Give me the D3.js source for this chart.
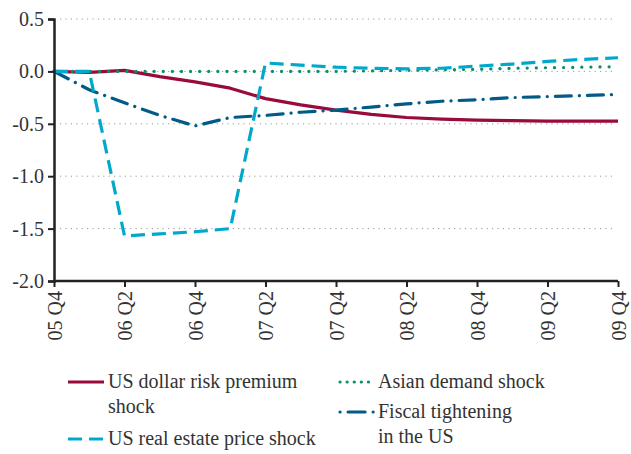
<!DOCTYPE html>
<html lang="en">
<head>
    <meta charset="UTF-8">
    <title>Shock scenarios</title>
    <script src="https://d3js.org/d3.v7.min.js"></script>
    <style>
        body {
            margin: 0;
            padding: 0;
            background: #fff;
        }
        .grid line {
            stroke: #999;
            stroke-width: 1;
            stroke-dasharray: 1.2 4.2;
        }
    </style>
</head>
<body>
    <svg width="631" height="454"></svg>
    <script>
        const serif = "'Liberation Serif', 'DejaVu Serif', 'Times New Roman', serif";

        // quarters 05 Q4 .. 09 Q4
        const quarters = ["05 Q4", "06 Q1", "06 Q2", "06 Q3", "06 Q4", "07 Q1", "07 Q2", "07 Q3", "07 Q4",
            "08 Q1", "08 Q2", "08 Q3", "08 Q4", "09 Q1", "09 Q2", "09 Q3", "09 Q4"];
        const tickLabels = ["05 Q4", "06 Q2", "06 Q4", "07 Q2", "07 Q4", "08 Q2", "08 Q4", "09 Q2", "09 Q4"];
        const yTicks = [0.5, 0.0, -0.5, -1.0, -1.5, -2.0];

        const dollarRisk = [0, -0.01, 0.01, -0.05, -0.10, -0.16, -0.26, -0.32, -0.37,
            -0.41, -0.44, -0.455, -0.465, -0.47, -0.475, -0.475, -0.475];
        const realEstate = [0, 0, -1.57, -1.55, -1.53, -1.5, 0.08, 0.06, 0.04,
            0.03, 0.025, 0.03, 0.05, 0.07, 0.095, 0.115, 0.13];
        const asianDemand = [0, 0, 0, 0, 0, 0, 0, 0, 0,
            0.005, 0.01, 0.015, 0.02, 0.03, 0.035, 0.04, 0.045];
        const fiscal = [0, -0.175, -0.3, -0.42, -0.52, -0.44, -0.42, -0.39, -0.37,
            -0.34, -0.31, -0.285, -0.27, -0.25, -0.24, -0.23, -0.22];

        const series = [
            { name: "dollar", values: dollarRisk, color: "#990b3b", dash: null },
            { name: "asian", values: asianDemand, color: "#0a8f6c", dash: "0.1 9", cap: "round" },
            { name: "fiscal", values: fiscal, color: "#005b88", dash: "16 8 0.1 8", cap: "round" },
            { name: "realestate", values: realEstate, color: "#00a9cc", dash: "14 7" }
        ];

        const svg = d3.select("svg");
        const x = d3.scalePoint().domain(quarters).range([54, 618]);
        const y = d3.scaleLinear().domain([-2.0, 0.5]).range([281, 19]);

        // gridlines
        svg.append("g")
            .attr("class", "grid")
            .selectAll("line")
            .data(yTicks.filter(d => d > -2))
            .join("line")
            .attr("x1", 60)
            .attr("x2", 614)
            .attr("y1", d => y(d))
            .attr("y2", d => y(d));

        // lines
        const line = d3.line()
            .x((d, i) => x(quarters[i]))
            .y(d => y(d));

        svg.append("g")
            .selectAll("path")
            .data(series)
            .join("path")
            .attr("fill", "none")
            .attr("stroke", d => d.color)
            .attr("stroke-width", 3.2)
            .attr("stroke-linecap", d => d.cap || "butt")
            .attr("stroke-linejoin", "round")
            .attr("stroke-dasharray", d => d.dash)
            .attr("d", d => line(d.values));

        // y axis
        const yAxis = svg.append("g")
            .attr("transform", "translate(54,0)")
            .call(d3.axisLeft(y).tickValues(yTicks).tickSize(6).tickPadding(4));
        yAxis.attr("font-family", null);
        yAxis.select(".domain").attr("stroke", "#222").attr("stroke-width", 2.5);
        yAxis.selectAll(".tick line").attr("stroke", "#222").attr("stroke-width", 2);
        yAxis.selectAll(".tick text")
            .style("font-family", serif)
            .style("font-size", "20px")
            .attr("fill", "#333")
            .text(d => d3.format(".1f")(d).replace("\u2212", "-"));

        // x axis
        const xAxis = svg.append("g")
            .attr("transform", "translate(0,281)")
            .call(d3.axisBottom(x).tickValues(tickLabels).tickSize(6).tickPadding(0));
        xAxis.attr("font-family", null);
        xAxis.select(".domain").attr("stroke", "#222").attr("stroke-width", 2.5)
            .attr("d", "M54,0H618");
        xAxis.selectAll(".tick line").attr("stroke", "#222").attr("stroke-width", 2);
        xAxis.selectAll(".tick text")
            .style("font-family", serif)
            .style("font-size", "20px")
            .attr("fill", "#333")
            .attr("transform", "rotate(-90)")
            .attr("text-anchor", "end")
            .attr("dy", "0.35em")
            .attr("x", -10)
            .attr("y", 0);

        // legend
        const legend = [
            { color: "#990b3b", dash: null, x: 68, y: 388, lines: ["US dollar risk premium", "shock"] },
            { color: "#00a9cc", dash: "14 7", x: 68, y: 445, lines: ["US real estate price shock"] },
            { color: "#0a8f6c", dash: "0.1 7", cap: "round", x: 338, y: 388, lines: ["Asian demand shock"] },
            { color: "#005b88", dash: "0.1 8 17 8", cap: "round", x: 338, y: 418, lines: ["Fiscal tightening", "in the US"] }
        ];

        const lg = svg.append("g")
            .selectAll("g")
            .data(legend)
            .join("g");

        lg.append("line")
            .attr("x1", d => d.x + (d.cap ? 2 : 0))
            .attr("x2", d => d.x + 36)
            .attr("y1", d => d.y - 6)
            .attr("y2", d => d.y - 6)
            .attr("stroke", d => d.color)
            .attr("stroke-width", 3.2)
            .attr("stroke-linecap", d => d.cap || "butt")
            .attr("stroke-dasharray", d => d.dash);

        lg.append("text")
            .attr("x", d => d.x + 40)
            .attr("y", d => d.y)
            .style("font-family", serif)
            .style("font-size", "20px")
            .attr("fill", "#333")
            .selectAll("tspan")
            .data(d => d.lines.map((t, i) => ({ t, i, x: d.x + 40 })))
            .join("tspan")
            .attr("x", d => d.x)
            .attr("dy", d => d.i === 0 ? 0 : 25)
            .text(d => d.t);
    </script>
</body>
</html>
